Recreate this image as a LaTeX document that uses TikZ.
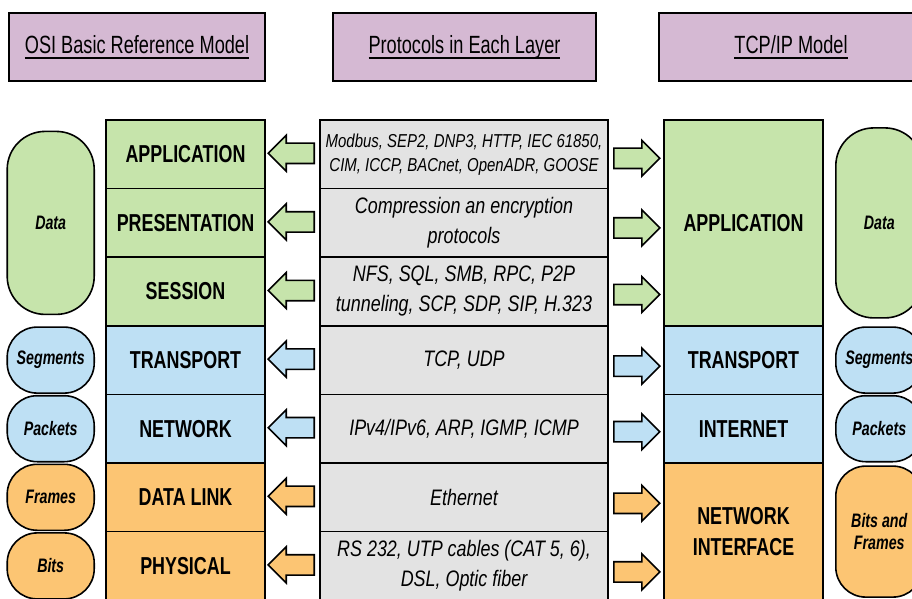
\documentclass[tikz,border=0pt]{standalone}
\usepackage{fontspec}
\setmainfont{Liberation Sans}[FakeStretch=0.73]
\newfontfamily\protofont{Liberation Sans}[FakeStretch=0.8]
\usetikzlibrary{shapes,arrows,positioning}

\definecolor{headpurple}{RGB}{213,185,211}
\definecolor{appgreen}{RGB}{198,228,171}
\definecolor{netblue}{RGB}{190,224,244}
\definecolor{linkorange}{RGB}{252,197,115}
\definecolor{protogray}{RGB}{227,227,227}

% underlined heading text, rule at a fixed depth
\newcommand{\hdul}[1]{\setbox0=\hbox{#1}\rlap{\vrule width\wd0 height -3.6pt depth 5.1pt}\box0}

\begin{document}
\begin{tikzpicture}[x=1pt, y=-1pt, node distance=0pt, line width=1.6pt]
  \tikzstyle{head} = [draw, rectangle, fill=headpurple, minimum height=68pt, outer sep=0pt, font=\fontsize{24.9}{28}\selectfont]
  \tikzstyle{layer} = [draw, rectangle, minimum width=159pt, minimum height=68.6pt, outer sep=0pt, align=center, font=\fontsize{24.5}{31}\selectfont\bfseries]
  \tikzstyle{proto} = [draw, rectangle, fill=protogray, minimum width=288pt, minimum height=68.6pt, outer sep=0pt, align=center, font=\protofont\fontsize{22.4}{30}\selectfont\itshape]
  \tikzstyle{pdu} = [draw, rectangle, rounded corners=30pt, minimum width=87pt, minimum height=66pt, inner sep=0pt, align=center, font=\fontsize{19.5}{22}\selectfont\bfseries\itshape]
  \tikzstyle{larrow} = [draw, single arrow, shape border rotate=180, minimum height=46pt, minimum width=36pt, inner sep=8.5pt]
  \tikzstyle{rarrow} = [draw, single arrow, minimum height=46pt, minimum width=36pt, inner sep=8.5pt]
  \useasboundingbox (0,0) rectangle (912,599);
  \clip (0,0) rectangle (912,599);

  % headers
  \node[head, minimum width=256pt] (hosi) at (137,47) {\hdul{OSI Basic Reference Model}};
  \node[head, minimum width=263pt, right=68pt of hosi] (hproto) {\hdul{Protocols in Each Layer}};
  \node[head, minimum width=264pt, right=63pt of hproto] (htcp) {\hdul{TCP/IP Model}};

  % OSI layers
  \node[layer, fill=appgreen] (osi1) at (185.5,154.3) {APPLICATION};
  \node[layer, fill=appgreen, below=of osi1] (osi2) {PRESENTATION};
  \node[layer, fill=appgreen, below=of osi2] (osi3) {SESSION};
  \node[layer, fill=netblue, below=of osi3] (osi4) {TRANSPORT};
  \node[layer, fill=netblue, below=of osi4] (osi5) {NETWORK};
  \node[layer, fill=linkorange, below=of osi5] (osi6) {DATA LINK};
  \node[layer, fill=linkorange, below=of osi6] (osi7) {PHYSICAL};

  % protocols
  \node[proto, right=55pt of osi1, font=\protofont\fontsize{18.7}{24}\selectfont\itshape] (p1) {Modbus, SEP2, DNP3, HTTP, IEC 61850,\\CIM, ICCP, BACnet, OpenADR, GOOSE};
  \node[proto, below=of p1] (p2) {Compression an encryption\\protocols};
  \node[proto, below=of p2] (p3) {NFS, SQL, SMB, RPC, P2P\\tunneling, SCP, SDP, SIP, H.323};
  \node[proto, below=of p3] (p4) {TCP, UDP};
  \node[proto, below=of p4] (p5) {IPv4/IPv6, ARP, IGMP, ICMP};
  \node[proto, below=of p5] (p6) {Ethernet};
  \node[proto, below=of p6] (p7) {RS 232, UTP cables (CAT 5, 6),\\DSL, Optic fiber};

  % TCP/IP layers
  \node[layer, fill=appgreen, minimum height=205.8pt, right=56pt of p1.north east, anchor=north west] (tcp1) {APPLICATION};
  \node[layer, fill=netblue, below=of tcp1] (tcp2) {TRANSPORT};
  \node[layer, fill=netblue, below=of tcp2] (tcp3) {INTERNET};
  \node[layer, fill=linkorange, minimum height=137.2pt, below=of tcp3] (tcp4) {NETWORK\\INTERFACE};

  % data units
  \node[pdu, fill=appgreen, minimum height=183pt, rounded corners=38pt, left=11pt of osi2] (ldata) {Data};
  \node[pdu, fill=netblue, left=11pt of osi4] (lseg) {Segments};
  \node[pdu, fill=netblue, left=11pt of osi5] (lpack) {Packets};
  \node[pdu, fill=linkorange, left=11pt of osi6] (lframe) {Frames};
  \node[pdu, fill=linkorange, left=11pt of osi7] (lbits) {Bits};
  \node[pdu, fill=appgreen, minimum height=190pt, rounded corners=38pt, right=12pt of tcp1] (rdata) {Data};
  \node[pdu, fill=netblue, right=12pt of tcp2] (rseg) {Segments};
  \node[pdu, fill=netblue, right=12pt of tcp3] (rpack) {Packets};
  \node[pdu, fill=linkorange, minimum height=131pt, right=12pt of tcp4] (rbits) {Bits and\\Frames};

  % arrows to the OSI side
  \node[larrow, fill=appgreen, left=5pt of p1, anchor=tail, yshift=1pt] (la1) {};
  \node[larrow, fill=appgreen, left=5pt of p2, anchor=tail, yshift=1pt] (la2) {};
  \node[larrow, fill=appgreen, left=5pt of p3, anchor=tail, yshift=1pt] (la3) {};
  \node[larrow, fill=netblue, left=5pt of p4, anchor=tail, yshift=1pt] (la4) {};
  \node[larrow, fill=netblue, left=5pt of p5, anchor=tail, yshift=1pt] (la5) {};
  \node[larrow, fill=linkorange, left=5pt of p6, anchor=tail, yshift=1pt] (la6) {};
  \node[larrow, fill=linkorange, left=5pt of p7, anchor=tail, yshift=1pt] (la7) {};

  % arrows to the TCP/IP side
  \node[rarrow, fill=appgreen, right=5pt of p1, anchor=tail, yshift=-4pt] (ra1) {};
  \node[rarrow, fill=appgreen, right=5pt of p2, anchor=tail, yshift=-5pt] (ra2) {};
  \node[rarrow, fill=appgreen, right=5pt of p3, anchor=tail, yshift=-3pt] (ra3) {};
  \node[rarrow, fill=netblue, right=5pt of p4, anchor=tail, yshift=-6pt] (ra4) {};
  \node[rarrow, fill=netblue, right=5pt of p5, anchor=tail, yshift=-3pt] (ra5) {};
  \node[rarrow, fill=linkorange, right=5pt of p6, anchor=tail, yshift=-6pt] (ra6) {};
  \node[rarrow, fill=linkorange, right=5pt of p7, anchor=tail, yshift=-6pt] (ra7) {};
\end{tikzpicture}
\end{document}
